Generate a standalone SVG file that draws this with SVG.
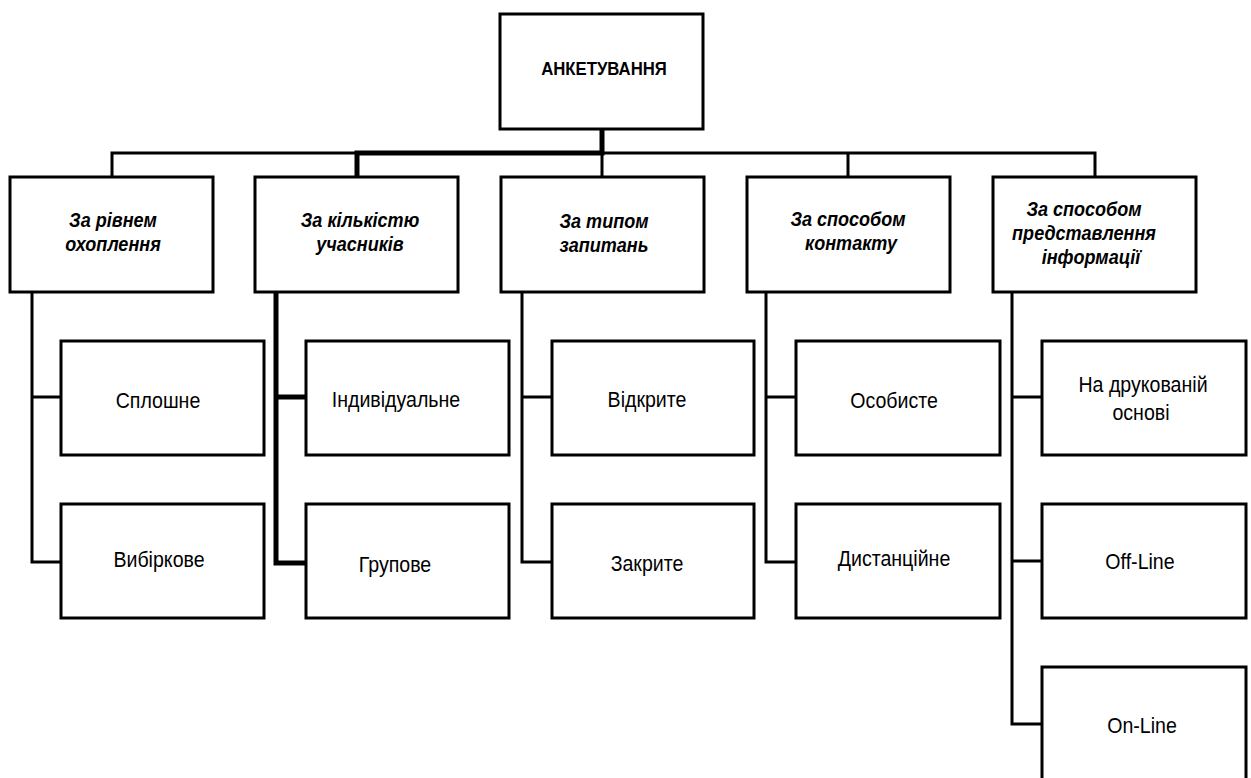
<svg xmlns="http://www.w3.org/2000/svg" width="1251" height="778" viewBox="0 0 1251 778">
<style>
rect{fill:#fff;stroke:#000;stroke-width:3}
.c{fill:none;stroke:#000;stroke-width:3}
.t{stroke-width:5}
text{font-family:"Liberation Sans",Arial,sans-serif;fill:#000;text-anchor:middle}
.h{font-weight:bold;font-style:italic;font-size:20.5px}
.r{font-size:22px}
.top{font-weight:bold;font-size:18px}
</style>
<rect width="1251" height="778" style="fill:#fff;stroke:none"/>
<g id="connectors">
<path class="c" d="M112 177V153H1095V177M602 153V177M848 153V177"/>
<path class="c t" d="M602 129V153H357V177"/>
<path class="c" d="M32 292V562H61M32 397H61"/>
<path class="c t" d="M276 292V563H306M276 397H306"/>
<path class="c" d="M522 292V562H552M522 397H552"/>
<path class="c" d="M766 292V562H796M766 397H796"/>
<path class="c" d="M1012 292V724H1042M1012 397H1042M1012 561H1042"/>
</g>
<g id="root"><rect x="500" y="14" width="203" height="115"/><text class="top" transform="translate(604 75) scale(0.93 1)">АНКЕТУВАННЯ</text></g>
<g id="n1"><rect x="10" y="177" width="203" height="115"/><text class="h" transform="translate(113 227) scale(0.88 1)">За рівнем</text><text class="h" transform="translate(113 251) scale(0.88 1)">охоплення</text></g>
<g id="n2"><rect x="255" y="177" width="203" height="115"/><text class="h" transform="translate(360 227) scale(0.88 1)">За кількістю</text><text class="h" transform="translate(360 251) scale(0.88 1)">учасників</text></g>
<g id="n3"><rect x="501" y="177" width="203" height="115"/><text class="h" transform="translate(604 228) scale(0.88 1)">За типом</text><text class="h" transform="translate(604 252) scale(0.88 1)">запитань</text></g>
<g id="n4"><rect x="747" y="177" width="203" height="115"/><text class="h" transform="translate(848 226) scale(0.88 1)">За способом</text><text class="h" transform="translate(851 250) scale(0.88 1)">контакту</text></g>
<g id="n5"><rect x="993" y="177" width="203" height="115"/><text class="h" transform="translate(1084 216) scale(0.88 1)">За способом</text><text class="h" transform="translate(1084 240) scale(0.88 1)">представлення</text><text class="h" transform="translate(1091 264) scale(0.88 1)">інформації</text></g>
<g id="n1a"><rect x="61" y="341" width="203" height="114"/><text class="r" transform="translate(158 408) scale(0.89 1)">Сплошне</text></g>
<g id="n1b"><rect x="61" y="504" width="203" height="114"/><text class="r" transform="translate(159 567) scale(0.89 1)">Вибіркове</text></g>
<g id="n2a"><rect x="306" y="341" width="203" height="114"/><text class="r" transform="translate(396 407) scale(0.89 1)">Індивідуальне</text></g>
<g id="n2b"><rect x="306" y="504" width="203" height="114"/><text class="r" transform="translate(395 572) scale(0.89 1)">Групове</text></g>
<g id="n3a"><rect x="552" y="341" width="202" height="114"/><text class="r" transform="translate(647 407) scale(0.89 1)">Відкрите</text></g>
<g id="n3b"><rect x="552" y="504" width="202" height="114"/><text class="r" transform="translate(647 571) scale(0.89 1)">Закрите</text></g>
<g id="n4a"><rect x="796" y="341" width="204" height="114"/><text class="r" transform="translate(894 408) scale(0.89 1)">Особисте</text></g>
<g id="n4b"><rect x="796" y="504" width="204" height="114"/><text class="r" transform="translate(894 566) scale(0.89 1)">Дистанційне</text></g>
<g id="n5a"><rect x="1042" y="341" width="204" height="114"/><text class="r" transform="translate(1143 392) scale(0.89 1)">На друкованій</text><text class="r" transform="translate(1141 420) scale(0.89 1)">основі</text></g>
<g id="n5b"><rect x="1042" y="504" width="204" height="114"/><text class="r" transform="translate(1140 569) scale(0.89 1)">Off-Line</text></g>
<g id="n5c"><rect x="1042" y="667" width="204" height="114"/><text class="r" transform="translate(1142 733) scale(0.89 1)">On-Line</text></g>
</svg>
